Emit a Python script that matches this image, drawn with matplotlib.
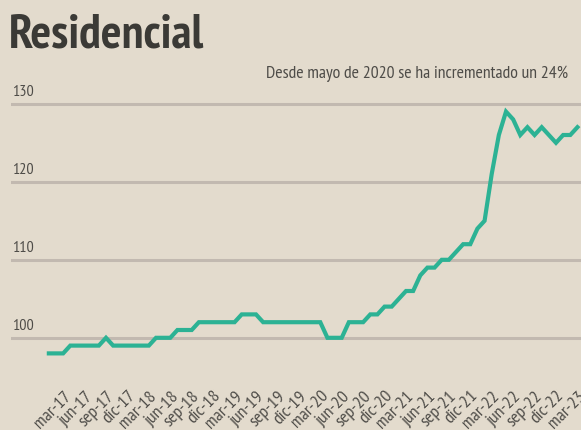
import matplotlib.pyplot as plt
import matplotlib.transforms as mtransforms

# monthly series, ene-17 .. mar-23
months = ['ene', 'feb', 'mar', 'abr', 'may', 'jun', 'jul', 'ago', 'sep', 'oct', 'nov', 'dic']
years = ['17', '18', '19', '20', '21', '22', '23']
labels = [m + '-' + y for y in years for m in months][:75]

values = [98, 98, 98, 99, 99, 99, 99, 99, 100, 99, 99, 99, 99, 99, 99,
          100, 100, 100, 101, 101, 101, 102, 102, 102, 102, 102, 102,
          103, 103, 103, 102, 102, 102, 102, 102, 102, 102, 102, 102,
          100, 100, 100, 102, 102, 102, 103, 103, 104, 104, 105, 106, 106,
          108, 109, 109, 110, 110, 111, 112, 112, 114, 115, 121, 126, 129,
          128, 126, 127, 126, 127, 126, 125, 126, 126, 127]

yticks = [100, 110, 120, 130]
title = 'Residencial'
subtitle = 'Desde mayo de 2020 se ha incrementado un 24%'

bg = '#e3dbcd'
teal = '#2cb294'
grid = '#c2b9b0'
dark = '#3b3a36'
mid = '#4e4c48'

plt.rcParams['font.family'] = ['PT Sans Narrow', 'DejaVu Sans']

fig = plt.figure(figsize=(5.81, 4.31), dpi=100, facecolor=bg)
ax = fig.add_axes([11 / 581, 61 / 431, 570 / 581, 273 / 431])
ax.set_facecolor(bg)

x = list(range(len(values)))
ax.plot(x, values, color=teal, lw=3.0, solid_joinstyle='miter', zorder=3)

ax.set_xlim(-5.3, 74.5)
ax.set_ylim(96, 131)

ytrans = mtransforms.blended_transform_factory(ax.transAxes, ax.transData)
for v in yticks:
    ax.axhline(v, color=grid, lw=2.2, zorder=1)
    ax.text(0.002, v + 0.7, str(v), transform=ytrans,
            ha='left', va='bottom', fontsize=11.5, color=mid)

ax.set_yticks([])
tick_idx = list(range(2, len(values), 3))
ax.set_xticks(tick_idx)
ax.set_xticklabels([labels[i] for i in tick_idx], rotation=45, ha='right',
                   rotation_mode='anchor', fontsize=13, color=mid)
ax.tick_params(axis='x', length=0, pad=13)
for s in ax.spines.values():
    s.set_visible(False)

fig.text(9 / 581, 1 - 48 / 431, title, fontsize=35, fontweight='bold', color=dark, ha='left', va='baseline')
fig.text(568 / 581, 1 - 74 / 431, subtitle, fontsize=12.8, color=mid, ha='right', va='center')

fig.savefig('out.png', dpi=100, facecolor=bg)
